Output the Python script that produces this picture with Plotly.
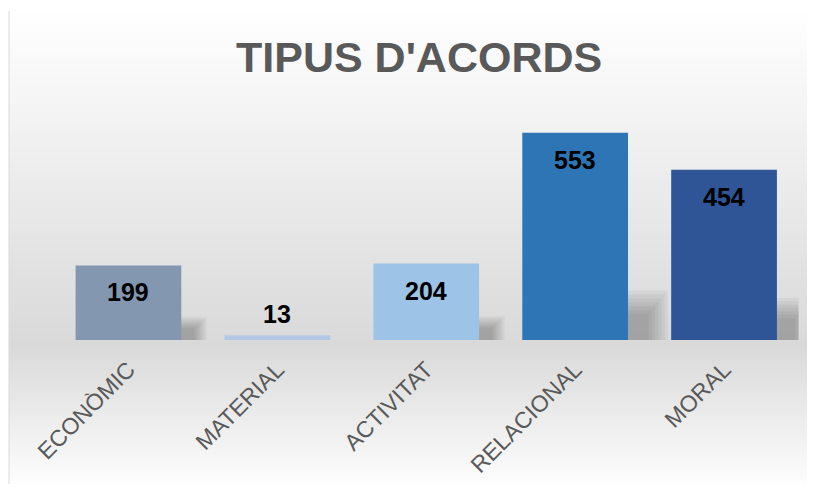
import plotly.graph_objects as go

# ---- data ----
categories = ["ECONÒMIC", "MATERIAL", "ACTIVITAT", "RELACIONAL", "MORAL"]
values = [199, 13, 204, 553, 454]
bar_colors = ["#8497B0", "#B4C7E7", "#9DC3E6", "#2E75B6", "#2F5597"]
title_text = "TIPUS D'ACORDS"

# page is 815x492; the html body adds an 8px margin
OFF = 8
W, H = 815 - 2 * OFF, 492 - 2 * OFF
FONT = "Liberation Sans, Arial, sans-serif"

def fx(p):  # page x pixel -> paper fraction
    return (p - OFF) / W

def fy(p):  # page y pixel (from top) -> paper fraction
    return 1 - (p - OFF) / H

# layout geometry (page pixels)
plot_left, plot_right = 54, 798.5
base_px, top_px = 340, 100
y_max = 640
x_dom = [fx(plot_left), fx(plot_right)]
y_dom = [fy(base_px), fy(top_px)]
px_per_unit = (base_px - top_px) / y_max
cat_px = (plot_right - plot_left) / len(categories)
bargap = 0.29

fig = go.Figure()
fig.add_trace(go.Bar(
    x=categories, y=values,
    marker=dict(color=bar_colors, line=dict(width=0)),
    hoverinfo="skip",
))

shapes = []
# background gradient (white -> gray at baseline -> white)
stops = [(11, 255), (345, 217), (492, 255)]
def grey_at(yp):
    for (a, ca), (b, cb) in zip(stops, stops[1:]):
        if a <= yp <= b:
            t = (yp - a) / (b - a)
            return round(ca + (cb - ca) * t)
    return 255
step = 3
yp = 11
while yp < 492:
    g = grey_at(yp + step / 2)
    shapes.append(dict(type="rect", xref="paper", yref="paper",
                       x0=fx(9), x1=1.02, y0=fy(yp + step), y1=fy(yp),
                       fillcolor=f"rgb({g},{g},{g})", line=dict(width=0), layer="below"))
    yp += step
# left border line
shapes.append(dict(type="line", xref="paper", yref="paper", x0=fx(9), x1=fx(9),
                   y0=-0.02, y1=fy(11), line=dict(color="#D9D9D9", width=1), layer="below"))

# soft shadows to the right of each bar (solid core, blurred edges)
half = (1 - bargap) / 2
layers = [1.0, 0.92, 0.84, 0.76, 0.68, 0.6, 0.52]
for i, v in enumerate(values):
    h = v * px_per_unit
    if h < 10:
        continue
    w_px = 17 + 0.11 * h
    s_px = 8 + 0.2 * h
    for f in layers:
        shapes.append(dict(type="rect", xref="x", yref="y",
                           x0=i + half - 0.01, x1=i + half + (w_px * f) / cat_px,
                           y0=-1.5 / px_per_unit * (1 - f) * 2, y1=(s_px * f) / px_per_unit,
                           fillcolor="rgba(50,50,50,0.055)", line=dict(width=0), layer="below"))
    # faint strip under the bar
    shapes.append(dict(type="rect", xref="x", yref="y",
                       x0=i - half + 0.02, x1=i + half, y0=-3 / px_per_unit, y1=0,
                       fillcolor="rgba(50,50,50,0.08)", line=dict(width=0), layer="below"))

annotations = []
# data labels
for i, v in enumerate(values):
    inside = v * px_per_unit > 40
    annotations.append(dict(x=categories[i], y=v, xref="x", yref="y",
                            text=f"<b>{v}</b>", showarrow=False,
                            yanchor="middle", yshift=-27 if inside else 21,
                            font=dict(family=FONT, size=25, color="#000000")))
# title
annotations.append(dict(x=fx(418.5), y=fy(57), xref="paper", yref="paper",
                        text=f"<b>{title_text}</b>", showarrow=False,
                        xanchor="center", yanchor="middle",
                        font=dict(family=FONT, size=43, color="#595959")))

fig.update_layout(
    width=W, height=H,
    margin=dict(l=0, r=0, t=0, b=0),
    paper_bgcolor="white", plot_bgcolor="rgba(0,0,0,0)",
    bargap=bargap, showlegend=False,
    shapes=shapes, annotations=annotations,
    xaxis=dict(domain=x_dom, range=[-0.5, len(categories) - 0.5],
               tickangle=-45, showgrid=False, zeroline=False,
               showline=False, ticks="outside", ticklen=6,
               tickcolor="rgba(0,0,0,0)", automargin=False,
               tickfont=dict(family=FONT, size=23, color="#595959")),
    yaxis=dict(domain=y_dom, range=[0, y_max], visible=False, showgrid=False,
               zeroline=False, automargin=False),
)

fig.write_html("out.html")
